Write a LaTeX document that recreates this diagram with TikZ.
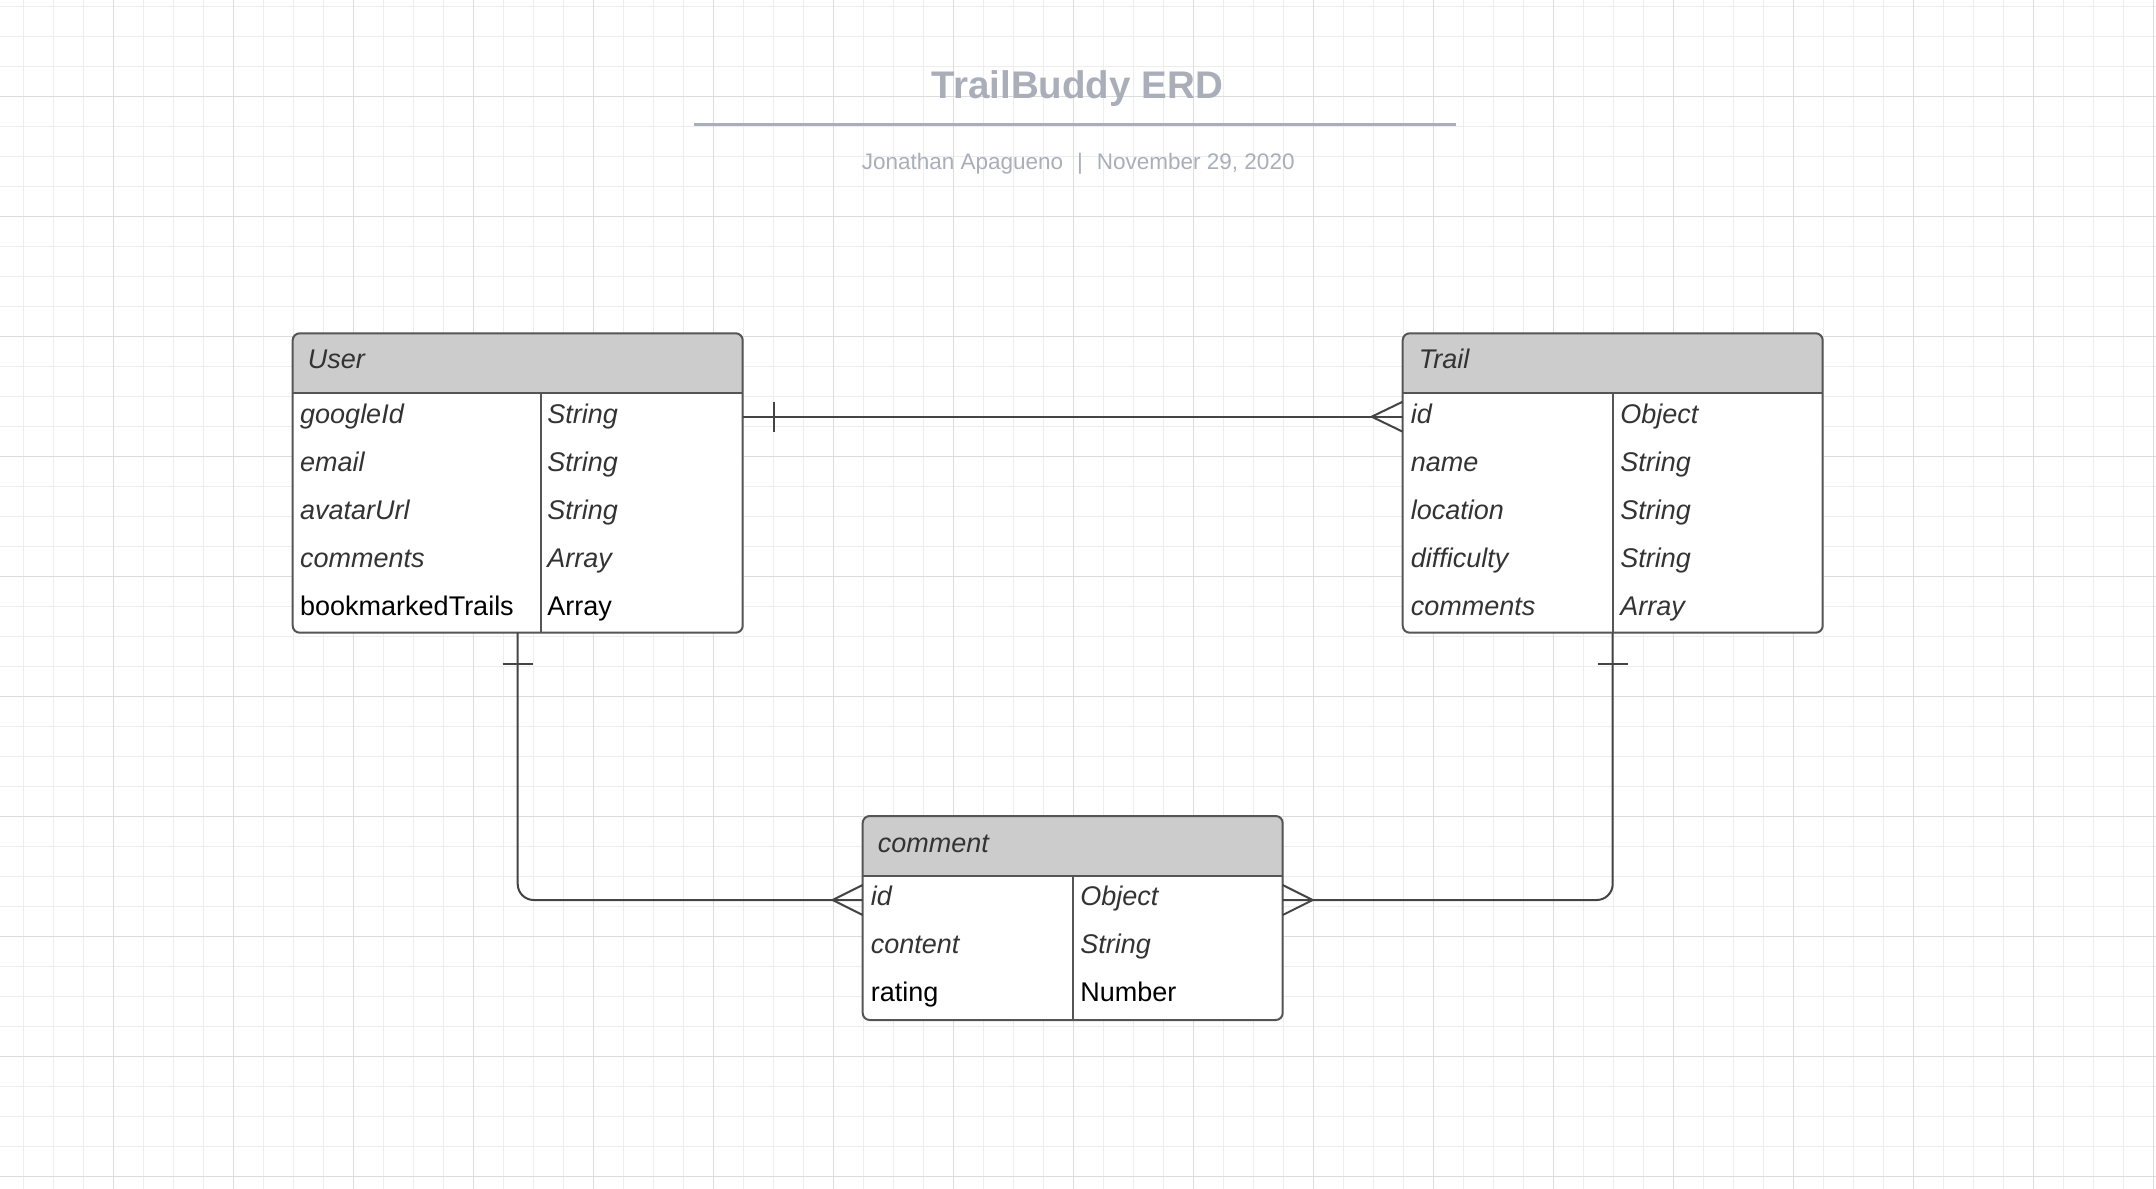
\documentclass[tikz,border=0pt]{standalone}
\usepackage{fontspec}
\setmainfont{Liberation Sans}
\definecolor{gridminor}{HTML}{EDEDED}
\definecolor{gridmajor}{HTML}{DCDCDC}
\definecolor{hdrgray}{HTML}{CCCCCC}
\definecolor{edgegray}{HTML}{555555}
\definecolor{relgray}{HTML}{444444}
\definecolor{txtgray}{HTML}{333333}
\definecolor{ttlgray}{HTML}{A9AEB8}
\newcommand{\plaintxt}{\upshape\color{black}}
\begin{document}
\begin{tikzpicture}[x=1pt, y=-1pt,
        tbl/.style={rectangle, fill=white, inner sep=0pt, outer sep=0pt},
        rowbox/.style={rectangle, inner sep=0pt, outer sep=0pt, minimum height=48pt},
        fld/.style={anchor=base west, inner sep=0pt, text=txtgray, font=\fontsize{27}{30}\selectfont\itshape},
        frame/.style={draw=edgegray, line width=2pt},
        rel/.style={draw=relgray, line width=2pt}
    ]
    \fill[white] (0,0) rectangle (2156,1189);
    \useasboundingbox (0,0) rectangle (2156,1189);
    \foreach \i in {0,...,71} \draw[gridminor, line width=1pt] (23.3+30*\i,0) -- (23.3+30*\i,1189);
    \foreach \i in {0,...,39} \draw[gridminor, line width=1pt] (0,6.3+30*\i) -- (2156,6.3+30*\i);
    \foreach \i in {0,...,17} \draw[gridmajor, line width=1pt] (113.3+120*\i,0) -- (113.3+120*\i,1189);
    \foreach \i in {0,...,9} \draw[gridmajor, line width=1pt] (0,96.3+120*\i) -- (2156,96.3+120*\i);

    \node[anchor=base, inner sep=0pt, text=ttlgray, font=\fontsize{38.5}{40}\selectfont\bfseries] (title) at (1077.4,98.5) {TrailBuddy ERD};
    \draw[ttlgray, line width=3pt] (694.4,124) -- (1456,124);
    \node[anchor=base, inner sep=0pt, text=ttlgray, font=\fontsize{22.5}{25}\selectfont] (byline) at (1078.2,169) {Jonathan Apagueno\hspace{0.62em}|\hspace{0.62em}November 29, 2020};

    % User
    \node[tbl, minimum width=450pt, minimum height=299.4pt, rounded corners=7pt] (user) at (517.7,483) {};
    \begin{scope}
        \clip (user.north west) rectangle ([yshift=-59.4pt]user.north east);
        \fill[hdrgray, rounded corners=7pt] (user.north west) rectangle (user.south east);
    \end{scope}
    \node[fld] (user-name) at ([xshift=15pt, yshift=-35.5pt]user.north west) {User};
    \foreach \f/\t/\s [count=\i] in {googleId/String/\relax, email/String/\relax, avatarUrl/String/\relax, comments/Array/\relax, bookmarkedTrails/Array/\plaintxt} {
        \node[rowbox, minimum width=450pt] (user-r\i) at (517.7,368.7+48*\i) {};
        \node[fld] (user-f\i) at ([xshift=7.3pt, yshift=-6.3pt]user-r\i.west) {\s\f};
        \node[fld] (user-t\i) at ([xshift=254.5pt, yshift=-6.3pt]user-r\i.west) {\s\t};
    }
    \draw[frame] (user-r1.north west) -- (user-r1.north east);
    \draw[frame] ([xshift=248.3pt]user-r1.north west) -- ([xshift=248.3pt]user-r5.south west);
    \draw[frame, rounded corners=7pt] (user.north west) rectangle (user.south east);

    % Trail
    \node[tbl, minimum width=420pt, minimum height=299.4pt, rounded corners=7pt] (trail) at (1612.7,483) {};
    \begin{scope}
        \clip (trail.north west) rectangle ([yshift=-59.4pt]trail.north east);
        \fill[hdrgray, rounded corners=7pt] (trail.north west) rectangle (trail.south east);
    \end{scope}
    \node[fld] (trail-name) at ([xshift=16pt, yshift=-35.5pt]trail.north west) {Trail};
    \foreach \f/\t [count=\i] in {id/Object, name/String, location/String, difficulty/String, comments/Array} {
        \node[rowbox, minimum width=420pt] (trail-r\i) at (1612.7,368.7+48*\i) {};
        \node[fld] (trail-f\i) at ([xshift=8pt, yshift=-6.3pt]trail-r\i.west) {\f};
        \node[fld] (trail-t\i) at ([xshift=217.5pt, yshift=-6.3pt]trail-r\i.west) {\t};
    }
    \draw[frame] (trail-r1.north west) -- (trail-r1.north east);
    \draw[frame] (trail-r1.north) -- (trail-r5.south);
    \draw[frame, rounded corners=7pt] (trail.north west) rectangle (trail.south east);

    % comment
    \node[tbl, minimum width=420pt, minimum height=204pt, rounded corners=7pt] (comment) at (1072.7,918) {};
    \begin{scope}
        \clip (comment.north west) rectangle ([yshift=-60pt]comment.north east);
        \fill[hdrgray, rounded corners=7pt] (comment.north west) rectangle (comment.south east);
    \end{scope}
    \node[fld] (comment-name) at ([xshift=15pt, yshift=-36.2pt]comment.north west) {comment};
    \foreach \f/\t/\s [count=\i] in {id/Object/\relax, content/String/\relax, rating/Number/\plaintxt} {
        \node[rowbox, minimum width=420pt] (comment-r\i) at (1072.7,852+48*\i) {};
        \node[fld] (comment-f\i) at ([xshift=8pt, yshift=-5.3pt]comment-r\i.west) {\s\f};
        \node[fld] (comment-t\i) at ([xshift=217.5pt, yshift=-5.3pt]comment-r\i.west) {\s\t};
    }
    \draw[frame] (comment-r1.north west) -- (comment-r1.north east);
    \draw[frame] (comment-r1.north) -- (comment-r3.south);
    \draw[frame, rounded corners=7pt] (comment.north west) rectangle (comment.south east);

    % relations
    \draw[rel] (user-r1.east) -- (trail-r1.west);
    \draw[rel] ([xshift=31pt, yshift=15pt]user-r1.east) -- ([xshift=31pt, yshift=-15pt]user-r1.east);
    \draw[rel] ([yshift=15pt]trail-r1.west) -- ([xshift=-31pt]trail-r1.west) -- ([yshift=-15pt]trail-r1.west);

    \draw[rel, rounded corners=16pt] (user.south) |- (comment-r1.west);
    \draw[rel] ([xshift=-15pt, yshift=-31pt]user.south) -- ([xshift=15pt, yshift=-31pt]user.south);
    \draw[rel] ([yshift=15pt]comment-r1.west) -- ([xshift=-30pt]comment-r1.west) -- ([yshift=-15pt]comment-r1.west);

    \draw[rel, rounded corners=16pt] (trail.south) |- (comment-r1.east);
    \draw[rel] ([xshift=-15pt, yshift=-31pt]trail.south) -- ([xshift=15pt, yshift=-31pt]trail.south);
    \draw[rel] ([yshift=15pt]comment-r1.east) -- ([xshift=30pt]comment-r1.east) -- ([yshift=-15pt]comment-r1.east);
\end{tikzpicture}
\end{document}
